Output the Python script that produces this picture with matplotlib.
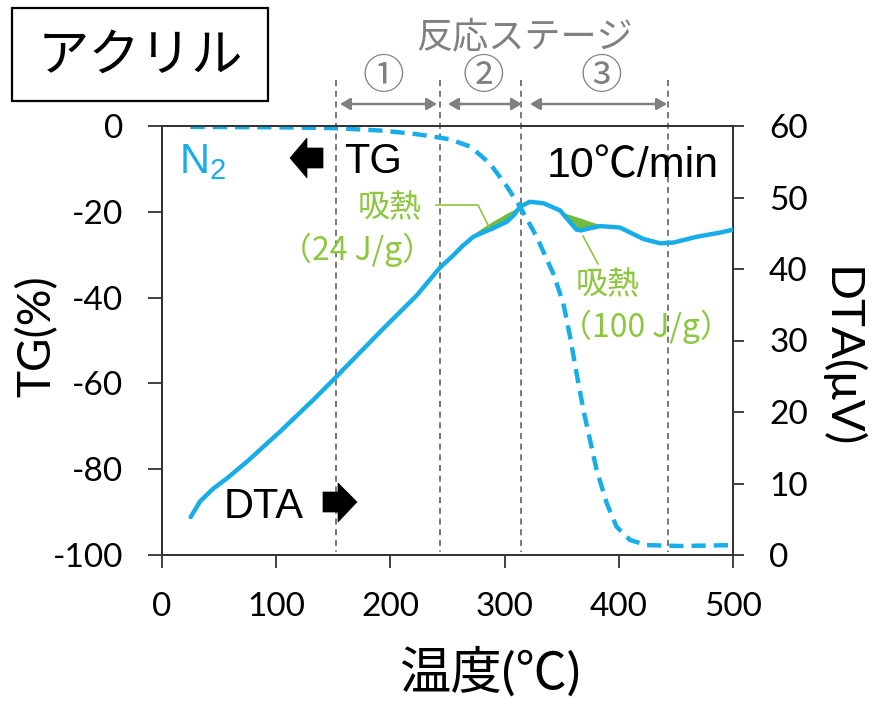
import matplotlib
matplotlib.use("Agg")
import matplotlib.pyplot as plt
import matplotlib.patches as mpatches
from matplotlib.lines import Line2D

# ---------------- data ----------------
temp_dta = [25.1, 33.3, 45, 56.7, 74, 103, 132.5, 150, 175, 194, 223, 243.4, 255, 263, 272.6, 281,
            290, 301.8, 308, 313.5, 322, 334, 348.5, 357, 363, 367, 372, 383.5, 401, 421.5, 436, 448,
            468, 489, 500]
dta = [5.3, 7.5, 9.3, 10.7, 13.0, 17.2, 21.7, 24.5, 28.6, 31.7, 36.3, 40.2, 41.9, 43.2, 44.5, 45.1,
       45.7, 46.6, 47.5, 48.7, 49.4, 49.2, 48.2, 46.6, 45.5, 45.4, 45.6, 46.0, 45.8, 44.2, 43.6, 43.7,
       44.5, 45.1, 45.5]

temp_tg = [25, 100, 152, 194, 223, 243, 252, 270, 287, 302, 313.5, 328, 342.6, 351.4, 357.3,
           363, 369, 374.8, 380.6, 389.4, 398, 409.8, 424.4, 453.6, 500]
tg = [-0.2, -0.3, -0.5, -1.1, -1.9, -2.7, -3.1, -4.8, -8.7, -14.1, -18.8, -25.8, -34.4, -41.3, -49.1,
      -57.6, -66.2, -73.2, -80.2, -87.9, -93.4, -96.5, -97.7, -97.9, -97.7]

# endothermic peaks: temperature, DTA curve, baseline
endo1_t = [268, 272.6, 281, 290, 301.8, 308, 313.5]
endo1_curve = [43.8, 44.5, 45.1, 45.7, 46.6, 47.5, 48.7]
endo1_base = [44.2, 44.9, 45.8, 46.7, 47.8, 48.3, 48.7]
endo2_t = [345.6, 348.5, 357, 363, 367, 372, 383.5, 389.4]
endo2_curve = [48.4, 48.2, 46.6, 45.5, 45.4, 45.6, 46.0, 46.0]
endo2_base = [48.4, 48.05, 47.6, 47.3, 47.1, 46.8, 46.2, 46.0]

stage_bounds = [152, 243, 314, 443]
stage_labels = ["①", "②", "③"]

x_ticks = [0, 100, 200, 300, 400, 500]
tg_ticks = [0, -20, -40, -60, -80, -100]
dta_ticks = [0, 10, 20, 30, 40, 50, 60]

# ---------------- style ----------------
W, H = 875, 704
CYAN = "#18ADE8"
GREEN_FILL = "#72BB3E"
GREEN_TXT = "#8DC63F"
GRAY = "#808080"
AXC = "#333333"
TICKFONT = "Lato"
LAT = ["Liberation Sans", "Noto Sans CJK JP", "DejaVu Sans"]
CJK = ["Noto Sans CJK JP", "DejaVu Sans"]

plt.rcParams["font.family"] = ["Lato", "Noto Sans CJK JP", "DejaVu Sans"]
plt.rcParams["axes.unicode_minus"] = False

fig = plt.figure(figsize=(W / 100, H / 100), dpi=100)
AX_L, AX_R, AX_T, AX_B = 162, 733, 126, 555
ax = fig.add_axes([AX_L / W, 1 - AX_B / H, (AX_R - AX_L) / W, (AX_B - AX_T) / H])
ax2 = ax.twinx()


def fx(px):
    return px / W


def fy(py):
    return 1 - py / H


def axx(px):
    return (px - AX_L) / (AX_R - AX_L)


def axy(py):
    return (AX_B - py) / (AX_B - AX_T)


ax.set_xlim(0, 500)
ax.set_ylim(-100, 0)
ax2.set_ylim(0, 60)

for a in (ax, ax2):
    for s in a.spines.values():
        s.set_color(AXC)
        s.set_linewidth(1.3)

ax.set_xticks(x_ticks)
ax.set_yticks(tg_ticks)
ax2.set_yticks(dta_ticks)
ax.tick_params(axis="x", direction="out", length=9, width=1.3, color=AXC, labelsize=24, pad=18)
ax.tick_params(axis="y", direction="out", length=10, width=1.3, color=AXC, labelsize=24, pad=18)
ax2.tick_params(axis="y", direction="out", length=8, width=1.3, color=AXC, labelsize=24, pad=18)
for lab in ax.get_xticklabels() + ax.get_yticklabels() + ax2.get_yticklabels():
    lab.set_family(TICKFONT)

ax.set_ylabel("TG(%)", fontsize=33, family="Lato", va="center", ha="center", rotation=90)
ax.yaxis.set_label_coords(axx(37), axy(336))
ax2.set_ylabel("DTA(μV)", fontsize=34, family="Lato", rotation=270, va="center", ha="center")
ax2.yaxis.set_label_coords(axx(841), axy(358))
ax.set_xlabel("温度(℃)", fontsize=37, family=["Lato", "Noto Sans CJK JP"], va="center", ha="center")
ax.xaxis.set_label_coords(axx(490), axy(672))

# stage boundary dashed lines (extend above the axes)
for b in stage_bounds:
    ax.plot([b, b], [10.7, -99.3], color="#555555", lw=1.1, ls=(0, (4, 3)), clip_on=False, zorder=1)

# TG curve (dashed)
ax.plot(temp_tg, tg, color=CYAN, lw=3.2, ls=(0, (3.2, 1.8)), zorder=3)

# DTA curve with endotherm fills
ax2.fill_between(endo1_t, endo1_curve, endo1_base, color=GREEN_FILL, lw=0, zorder=2)
ax2.fill_between(endo2_t, endo2_curve, endo2_base, color=GREEN_FILL, lw=0, zorder=2)
ax2.plot(temp_dta, dta, color=CYAN, lw=3.2, zorder=3, solid_capstyle="round", solid_joinstyle="round")

# ---------------- annotations (figure pixel coords) ----------------
T = fig.transFigure

fig.patches.append(mpatches.Rectangle((fx(12), fy(101)), fx(268) - fx(12), fy(8) - fy(101),
                                      transform=T, fill=False, lw=1.6, ec="black"))
fig.text(fx(140), fy(56), "アクリル", fontsize=37, family=CJK, ha="center", va="center")

fig.text(fx(525), fy(37), "反応ステージ", fontsize=26, family=CJK, color=GRAY, ha="center", va="center")
for lab, cx in zip(stage_labels, [383, 483, 601]):
    fig.text(fx(cx), fy(77), lab, fontsize=30, family=CJK, color=GRAY, ha="center", va="center")
for x0, x1 in [(340, 437), (448, 522), (530, 667)]:
    fig.patches.append(mpatches.FancyArrowPatch((fx(x0), fy(104)), (fx(x1), fy(104)), transform=T,
                                                arrowstyle="<|-|>,head_length=6,head_width=3.5",
                                                color=GRAY, lw=1.8, shrinkA=0, shrinkB=0))

fig.text(fx(179), fy(173), r"$\mathregular{N_2}$", fontsize=30, family=LAT, color=CYAN,
         ha="left", va="baseline")

fig.text(fx(344), fy(173), "TG", fontsize=30, family=LAT, ha="left", va="baseline")
fig.text(fx(224), fy(518), "DTA", fontsize=30, family=LAT, ha="left", va="baseline")
left_arrow = [(290, 158), (307, 138), (307, 148), (323, 148), (323, 168), (307, 168), (307, 178)]
right_arrow = [(357, 502), (338, 483), (338, 492), (323, 492), (323, 512), (338, 512), (338, 522)]
for poly in (left_arrow, right_arrow):
    fig.patches.append(mpatches.Polygon([(fx(a), fy(b)) for a, b in poly], closed=True,
                                        transform=T, fc="black", ec="black", lw=0.5))

fig.text(fx(547), fy(177), "10℃/min", fontsize=31, family=LAT, ha="left", va="baseline")

fig.text(fx(390), fy(208), "吸熱", fontsize=23, family=CJK, color=GREEN_TXT, ha="center", va="center")
fig.text(fx(357), fy(250), "（24 J/g）", fontsize=23, family=CJK, color=GREEN_TXT, ha="center", va="center")
fig.text(fx(608), fy(285), "吸熱", fontsize=23, family=CJK, color=GREEN_TXT, ha="center", va="center")
fig.text(fx(646), fy(327), "（100 J/g）", fontsize=23, family=CJK, color=GREEN_TXT, ha="center", va="center")
fig.lines.append(Line2D([fx(436), fx(478), fx(489)], [fy(205), fy(205), fy(227)], transform=T,
                        color=GREEN_TXT, lw=1.2))
fig.lines.append(Line2D([fx(583), fx(598)], [fy(236), fy(264)], transform=T,
                        color=GREEN_TXT, lw=1.2))

fig.savefig("out.png", dpi=100)
